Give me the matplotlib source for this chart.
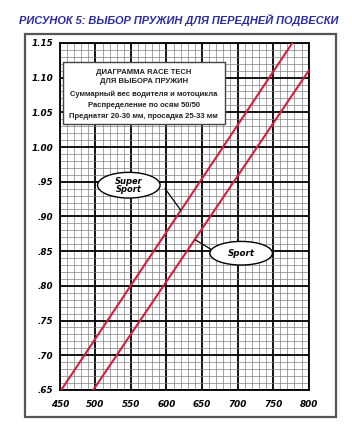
import matplotlib.pyplot as plt
from matplotlib.patches import Ellipse, Rectangle
from matplotlib.ticker import MultipleLocator

# (weight, spring rate) ends of each line
super_sport_x = [452, 777]
super_sport_y = [0.65, 1.15]
sport_x = [497, 800]
sport_y = [0.65, 1.11]

x_ticks = [450, 500, 550, 600, 650, 700, 750, 800]
y_ticks = [0.65, 0.70, 0.75, 0.80, 0.85, 0.90, 0.95, 1.00, 1.05, 1.10, 1.15]
y_labels = [".65", ".70", ".75", ".80", ".85", ".90", ".95", "1.00", "1.05", "1.10", "1.15"]

title = "РИСУНОК 5: ВЫБОР ПРУЖИН ДЛЯ ПЕРЕДНЕЙ ПОДВЕСКИ"
box_lines = [
    "ДИАГРАММА RACE TECH",
    "ДЛЯ ВЫБОРА ПРУЖИН",
    "Суммарный вес водителя и мотоцикла",
    "Распределение по осям 50/50",
    "Преднатяг 20-30 мм, просадка 25-33 мм",
]

red = "#d21f3c"
narrow = ["Liberation Sans Narrow", "Liberation Sans", "DejaVu Sans"]

fig = plt.figure(figsize=(3.52, 4.29), dpi=100)

# outer frame
fig.patches.append(Rectangle((0.071, 0.028), 0.884, 0.893, transform=fig.transFigure,
                             fill=False, edgecolor="#555555", linewidth=1.6))

fig.text(0.508, 0.953, title, ha="center", va="center", color="#2b2b9e",
         fontsize=7.9, fontweight="bold", fontstyle="italic", family=narrow)

ax = fig.add_axes([0.170, 0.091, 0.707, 0.809])
ax.set_xlim(450, 800)
ax.set_ylim(0.65, 1.15)

ax.xaxis.set_minor_locator(MultipleLocator(10))
ax.yaxis.set_minor_locator(MultipleLocator(0.01))
ax.set_xticks(x_ticks)
ax.set_yticks(y_ticks)
ax.set_yticklabels(y_labels)
ax.grid(which="minor", color="#808080", linewidth=0.5)
ax.grid(which="major", color="black", linewidth=1.3)
ax.set_axisbelow(True)
ax.tick_params(which="both", length=0)
ax.tick_params(axis="y", pad=5)
ax.tick_params(axis="x", pad=7)
for lab in ax.get_xticklabels() + ax.get_yticklabels():
    lab.set_fontsize(6.3)
    lab.set_fontweight("bold")
    lab.set_fontstyle("italic")
for sp in ax.spines.values():
    sp.set_linewidth(1.3)

ax.plot(super_sport_x, super_sport_y, color=red, linewidth=1.5, zorder=3)
ax.plot(sport_x, sport_y, color=red, linewidth=1.5, zorder=3)

# info box
ax.add_patch(Rectangle((0.012, 0.767), 0.651, 0.178, transform=ax.transAxes,
                       facecolor="white", edgecolor="#444444", linewidth=1.0, zorder=4))
line_y = [0.916, 0.889, 0.853, 0.821, 0.789]
for txt, yy in zip(box_lines, line_y):
    ax.text(0.337, yy, txt, transform=ax.transAxes, ha="center", va="center",
            fontsize=5.5, fontweight="bold", color="#222222", zorder=5, family=narrow)

# labels with leader lines
ax.plot([598, 620], [0.940, 0.909], color="black", linewidth=0.9, zorder=4)
ax.add_patch(Ellipse((547, 0.945), 88, 0.037, facecolor="white",
                     edgecolor="black", linewidth=1.0, zorder=5))
ax.text(547, 0.945, "Super\nSport", ha="center", va="center", fontsize=6,
        fontweight="bold", fontstyle="italic", linespacing=0.9, zorder=6)

ax.plot([641, 662], [0.866, 0.853], color="black", linewidth=0.9, zorder=4)
ax.add_patch(Ellipse((705, 0.847), 88, 0.034, facecolor="white",
                     edgecolor="black", linewidth=1.0, zorder=5))
ax.text(705, 0.847, "Sport", ha="center", va="center", fontsize=6.3,
        fontweight="bold", fontstyle="italic", zorder=6)

fig.savefig("out.png", dpi=100)
